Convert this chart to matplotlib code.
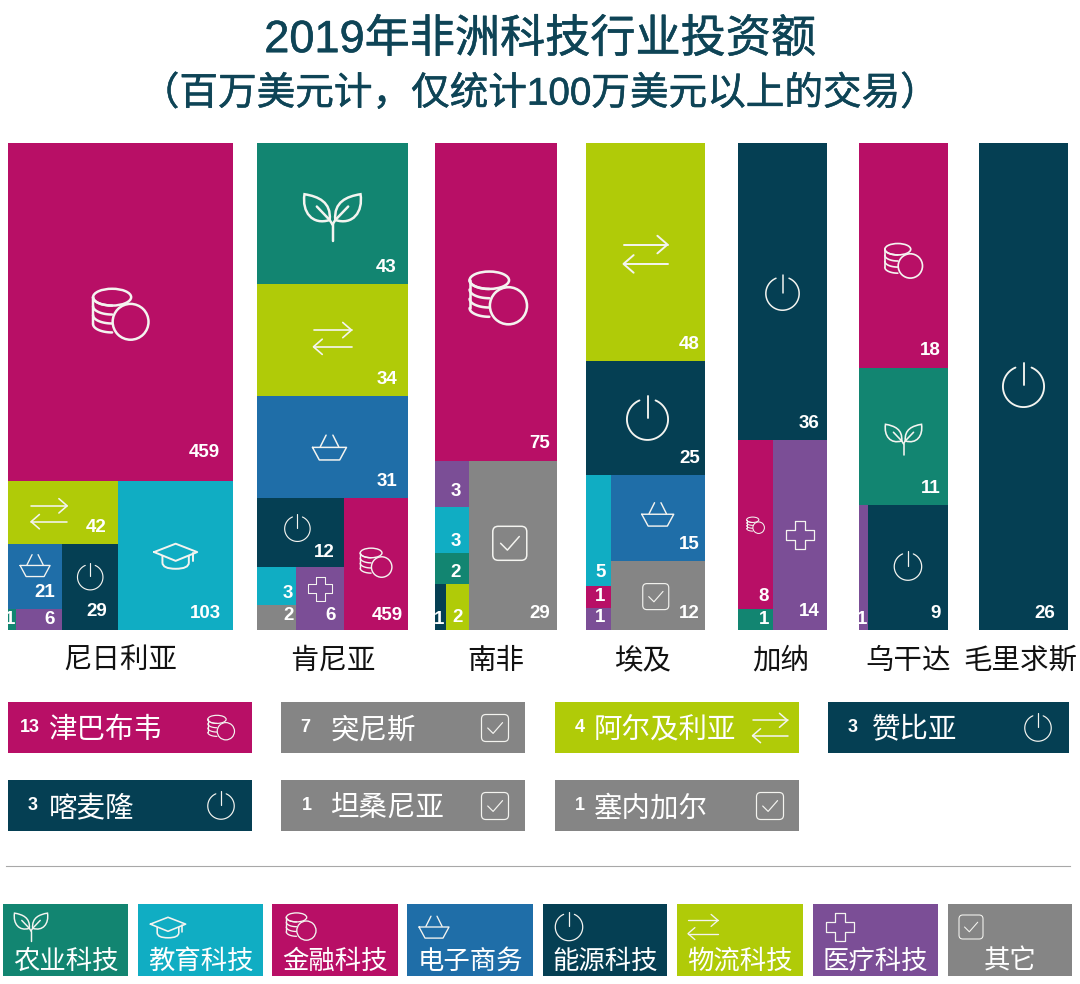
import numpy as np
import matplotlib
matplotlib.use('Agg')
import matplotlib.pyplot as plt
import matplotlib.patheffects as pe
from matplotlib.patches import Rectangle, Circle, Ellipse, PathPatch, FancyBboxPatch
from matplotlib.path import Path

plt.rcParams['font.family'] = ['Liberation Sans', 'Noto Sans CJK SC', 'DejaVu Sans']

COLORS = {'fin': '#b80f66', 'log': '#b0cb08', 'ecom': '#1f6ea8', 'edu': '#10adc3',
          'energy': '#053f53', 'agri': '#128571', 'health': '#7b4e96', 'other': '#858585'}
TEXT_DARK = '#0e4456'
ICON_COLOR = '#f4f4f0'
CJK = ['Noto Sans CJK SC', 'DejaVu Sans']

# Country names
countries = ['尼日利亚', '肯尼亚', '南非', '埃及', '加纳', '乌干达', '毛里求斯']

# Values per country (area of each cell) and the categories they belong to
nigeria_values = [459, 42, 21, 1, 6, 29, 103]
nigeria_cats = ['fin', 'log', 'ecom', 'agri', 'health', 'energy', 'edu']
kenya_values = [43, 34, 31, 12, 3, 2, 6, 17]
kenya_cats = ['agri', 'log', 'ecom', 'energy', 'edu', 'other', 'health', 'fin']
# the original prints 459 on the Kenyan fintech cell although its area is about 17
kenya_labels = [43, 34, 31, 12, 3, 2, 6, 459]
safrica_values = [75, 3, 3, 2, 1, 2, 29]
safrica_cats = ['fin', 'health', 'edu', 'agri', 'energy', 'log', 'other']
egypt_values = [48, 25, 5, 1, 1, 15, 12]
egypt_cats = ['log', 'energy', 'edu', 'fin', 'health', 'ecom', 'other']
ghana_values = [36, 8, 1, 14]
ghana_cats = ['energy', 'fin', 'agri', 'health']
uganda_values = [18, 11, 1, 9]
uganda_cats = ['fin', 'agri', 'health', 'energy']
mauritius_values = [26]
mauritius_cats = ['energy']

# Smaller countries shown as tiles
tile_counts = [13, 7, 4, 3, 3, 1, 1]
tile_names = ['津巴布韦', '突尼斯', '阿尔及利亚', '赞比亚', '喀麦隆', '坦桑尼亚', '塞内加尔']
tile_cats = ['fin', 'other', 'log', 'energy', 'energy', 'other', 'other']

legend_names = ['农业科技', '教育科技', '金融科技', '电子商务', '能源科技', '物流科技', '医疗科技', '其它']
legend_cats = ['agri', 'edu', 'fin', 'ecom', 'energy', 'log', 'health', 'other']

ICON_KIND = {'fin': 'coins', 'log': 'arrows', 'ecom': 'basket', 'edu': 'cap',
             'energy': 'power', 'agri': 'plant', 'health': 'cross', 'other': 'check'}

# How each treemap column is split: 'v' stacks, 'h' goes side by side, ints index the values
splits = [
    ('v', 0, ('h', ('v', 1, ('h', ('v', 2, ('h', 3, 4)), 5)), 6)),
    ('v', 0, 1, 2, ('h', ('v', 3, ('h', ('v', 4, 5), 6)), 7)),
    ('v', 0, ('h', ('v', 1, 2, 3, ('h', 4, 5)), 6)),
    ('v', 0, 1, ('h', ('v', 2, 3, 4), ('v', 5, 6))),
    ('v', 0, ('h', ('v', 1, 2), 3)),
    ('v', 0, 1, ('h', 2, 3)),
    ('v', 0),
]
column_left = [8, 257, 435, 586, 738, 859, 979]
column_right = [233, 408, 557, 705, 827, 948, 1068]
COL_TOP, COL_BOTTOM = 143, 630
label_x = [120, 333, 496, 643, 781, 908, 1020]

# icon offset from the cell centre and icon width, by value index
icon_spots = [
    {0: (0, 3, 56), 1: (-14, 1, 36), 2: (0, -11, 30), 5: (0, -10, 26), 6: (0, 0, 44)},
    {0: (0, 4, 56), 1: (0, -2, 38), 2: (-3, 0, 34), 3: (-3, -4, 26), 6: (0, -10, 24), 7: (0, -1, 32)},
    {0: (2, -3, 58), 6: (-3, -2, 34)},
    {0: (0, 2, 44), 1: (2, 1, 42), 5: (0, -4, 32), 6: (-2, 1, 26)},
    {0: (0, 2, 34), 1: (0, 1, 18), 3: (0, 0, 28)},
    {0: (0, 6, 38), 1: (0, 3, 36), 3: (0, -1, 28)},
    {0: (0, 0, 42)},
]

# value label padding from the cell's right and bottom edge
label_pad_right = [12, 11, 7, 5, 8, 7, 13]
pad_overrides = {(0, 2): (7, 16), (0, 3): (0.5, 11), (0, 4): (7, 11), (0, 5): (11, 18), (0, 0): (13, 29),
                 (1, 3): (9, 15), (1, 4): (3, 11), (1, 5): (3, 14), (1, 6): (8, 14), (1, 7): (5, 14),
                 (2, 1): (8, 15), (2, 2): (8, 12), (2, 3): (8, 11), (2, 4): (1.5, 11), (2, 5): (6, 12),
                 (3, 2): (5, 13), (3, 3): (5, 11), (3, 4): (5, 12),
                 (4, 1): (4, 12), (4, 2): (4, 11), (4, 3): (7, 18), (5, 2): (1, 11)}

fig = plt.figure(figsize=(10.8, 9.84), dpi=100)
ax = fig.add_axes([0, 0, 1, 1])
ax.set_xlim(0, 1080)
ax.set_ylim(984, 0)
ax.axis('off')


def weight(node, values):
    if isinstance(node, int):
        return values[node]
    return sum(weight(c, values) for c in node[1:])


def layout(node, values, x0, y0, x1, y1, out):
    # slice and dice, sizes come from the values
    if isinstance(node, int):
        out[node] = (x0, y0, x1, y1)
        return
    total = weight(node, values)
    pos = y0 if node[0] == 'v' else x0
    for child in node[1:]:
        frac = weight(child, values) / total
        if node[0] == 'v':
            nxt = pos + frac * (y1 - y0)
            layout(child, values, x0, pos, x1, nxt, out)
        else:
            nxt = pos + frac * (x1 - x0)
            layout(child, values, pos, y0, nxt, y1, out)
        pos = nxt


def line(xs, ys, cx, cy, s, lw, z=5):
    ax.plot(cx + np.array(xs) * s, cy + np.array(ys) * s, color=ICON_COLOR, lw=lw,
            solid_capstyle='round', solid_joinstyle='round', zorder=z)


def curve(verts, codes, cx, cy, s, lw):
    v = np.array(verts) * s + [cx, cy]
    ax.add_patch(PathPatch(Path(v, codes), fc='none', ec=ICON_COLOR, lw=lw, zorder=5))


def draw_icon(kind, cx, cy, s, bg):
    lw = max(0.75, s * 0.032)
    if kind == 'power':
        t = np.radians(np.linspace(113, 427, 60))
        line(0.49 * np.cos(t), -0.49 * np.sin(t), cx, cy, s, lw)
        line([0, 0], [-0.55, -0.03], cx, cy, s, lw)
    elif kind == 'arrows':
        line([-0.5, 0.5], [-0.22, -0.22], cx, cy, s, lw)
        line([0.27, 0.5, 0.27], [-0.42, -0.22, -0.02], cx, cy, s, lw)
        line([0.5, -0.5], [0.22, 0.22], cx, cy, s, lw)
        line([-0.27, -0.5, -0.27], [0.02, 0.22, 0.42], cx, cy, s, lw)
    elif kind == 'basket':
        line([-0.5, 0.5, 0.3, -0.3, -0.5], [0, 0, 0.37, 0.37, 0], cx, cy, s, lw)
        line([-0.27, -0.1], [-0.02, -0.36], cx, cy, s, lw)
        line([0.27, 0.1], [-0.02, -0.36], cx, cy, s, lw)
    elif kind == 'cap':
        line([-0.49, 0, 0.49, 0, -0.49], [-0.08, -0.27, -0.08, 0.12, -0.08], cx, cy, s, lw)
        curve([(-0.3, 0.0), (-0.3, 0.16), (-0.3, 0.3), (0, 0.3), (0.3, 0.3), (0.3, 0.16), (0.3, 0.0)],
              [Path.MOVETO, Path.LINETO, Path.CURVE3, Path.CURVE3, Path.CURVE3, Path.CURVE3, Path.LINETO],
              cx, cy, s, lw)
        line([0.39, 0.39], [-0.05, 0.13], cx, cy, s, lw)
    elif kind == 'cross':
        a, b = 0.19, 0.5
        line([-a, a, a, b, b, a, a, -a, -a, -b, -b, -a, -a],
             [-b, -b, -a, -a, a, a, b, b, a, a, -a, -a, -b], cx, cy, s, lw)
    elif kind == 'check':
        ax.add_patch(FancyBboxPatch((cx - 0.4 * s, cy - 0.4 * s), 0.8 * s, 0.8 * s,
                                    boxstyle=f'round,pad={0.1 * s},rounding_size={0.16 * s}',
                                    fc='none', ec=ICON_COLOR, lw=lw, zorder=5))
        line([-0.27, -0.07, 0.28], [0.0, 0.2, -0.2], cx, cy, s, lw)
    elif kind == 'plant':
        line([0, 0], [0.42, 0.12], cx, cy, s, lw)
        line([0, -0.05], [0.12, 0.04], cx, cy, s, lw)
        line([0, 0.05], [0.12, 0.04], cx, cy, s, lw)
        leaf = [Path.MOVETO, Path.CURVE4, Path.CURVE4, Path.CURVE4, Path.CURVE4, Path.CURVE4, Path.CURVE4]
        curve([(-0.05, 0.04), (-0.02, -0.28), (-0.25, -0.38), (-0.5, -0.42),
               (-0.55, -0.1), (-0.36, 0.14), (-0.05, 0.04)], leaf, cx, cy, s, lw)
        curve([(0.05, 0.04), (0.02, -0.28), (0.25, -0.38), (0.5, -0.42),
               (0.55, -0.1), (0.36, 0.14), (0.05, 0.04)], leaf, cx, cy, s, lw)
        line([-0.05, -0.28], [0.04, -0.2], cx, cy, s, lw)
        line([0.05, 0.28], [0.04, -0.2], cx, cy, s, lw)
    elif kind == 'coins':
        ax.add_patch(Ellipse((cx - 0.15 * s, cy - 0.32 * s), 0.68 * s, 0.3 * s, fc='none',
                             ec=ICON_COLOR, lw=lw, zorder=5))
        line([-0.49, -0.49], [-0.32, 0.16], cx, cy, s, lw)
        t = np.linspace(np.pi, np.pi / 2, 20)
        for off in [-0.32, -0.16, 0.0, 0.16]:
            line(-0.15 + 0.34 * np.cos(t), off + 0.15 * np.sin(t), cx, cy, s, lw)
        ax.add_patch(Circle((cx + 0.18 * s, cy + 0.12 * s), 0.32 * s, fc=bg, ec=ICON_COLOR,
                            lw=lw, zorder=6))


all_values = [nigeria_values, kenya_values, safrica_values, egypt_values, ghana_values,
              uganda_values, mauritius_values]
all_cats = [nigeria_cats, kenya_cats, safrica_cats, egypt_cats, ghana_cats, uganda_cats,
            mauritius_cats]
all_labels = [nigeria_values, kenya_labels, safrica_values, egypt_values, ghana_values,
              uganda_values, mauritius_values]

for c in range(len(countries)):
    cells = {}
    layout(splits[c], all_values[c], column_left[c], COL_TOP, column_right[c], COL_BOTTOM, cells)
    for i, (x0, y0, x1, y1) in cells.items():
        bg = COLORS[all_cats[c][i]]
        ax.add_patch(Rectangle((x0, y0), x1 - x0, y1 - y0, fc=bg, ec='none', zorder=2))
        pad_r, pad_b = pad_overrides.get((c, i), (label_pad_right[c], 17))
        ax.text(x1 - pad_r, y1 - pad_b, str(all_labels[c][i]), color='white', fontsize=13.5,
                fontweight='bold', family='Liberation Sans', ha='right', va='center', zorder=7)
        if i in icon_spots[c]:
            dx, dy, s = icon_spots[c][i]
            draw_icon(ICON_KIND[all_cats[c][i]], (x0 + x1) / 2 + dx, (y0 + y1) / 2 + dy, s, bg)
    ax.text(label_x[c], 661, countries[c], fontsize=20.5, color='#111111', ha='center', va='center',
            family=CJK)

# Titles
thick = [pe.withStroke(linewidth=0.4, foreground=TEXT_DARK)]
ax.text(540, 40, '2019年非洲科技行业投资额', fontsize=32.5, color=TEXT_DARK, ha='center', va='center',
        path_effects=thick)
ax.text(540, 94, '（百万美元计，仅统计100万美元以上的交易）', fontsize=27.8, color=TEXT_DARK, ha='center',
        va='center', path_effects=thick)

# Country tiles
tile_x = [(8, 252), (281, 525), (555, 799), (828, 1069), (8, 252), (281, 525), (555, 799)]
tile_y = [(702, 753)] * 4 + [(780, 831)] * 3
count_x = [30, 305, 580, 853, 33, 307, 580]
name_x = [49, 330, 594, 872, 49, 330, 594]
tile_icon_x = [221, 495, 770, 1038, 221, 495, 770]

for i in range(len(tile_names)):
    bg = COLORS[tile_cats[i]]
    x0, x1 = tile_x[i]
    y0, y1 = tile_y[i]
    ax.add_patch(Rectangle((x0, y0), x1 - x0, y1 - y0, fc=bg, ec='none', zorder=2))
    ax.text(count_x[i], (y0 + y1) / 2, str(tile_counts[i]), color='white', fontsize=13,
            fontweight='bold', family='Liberation Sans', ha='center', va='center', zorder=7)
    ax.text(name_x[i], (y0 + y1) / 2 + 3, tile_names[i], color='white', fontsize=20.5, ha='left',
            va='center', family=CJK, zorder=7)
    kind = ICON_KIND[tile_cats[i]]
    draw_icon(kind, tile_icon_x[i], (y0 + y1) / 2 + 0.5, 35 if kind == 'arrows' else 27, bg)

ax.plot([6, 1070], [866, 866], color='#a8a8a8', lw=0.8, zorder=1)

# Category legend
legend_left = [3, 138, 272, 407, 543, 677, 813, 948]
legend_right = [128, 263, 398, 533, 667, 803, 938, 1072]
legend_icon_x = [31, 168, 301, 434, 569, 703, 840, 971]
legend_icon_w = [33, 36, 30, 30, 28, 30, 28, 24]
for i in range(len(legend_names)):
    bg = COLORS[legend_cats[i]]
    x0, x1 = legend_left[i], legend_right[i]
    ax.add_patch(Rectangle((x0, 904), x1 - x0, 72, fc=bg, ec='none', zorder=2))
    ax.text((x0 + x1) / 2, 961, legend_names[i], color='white', fontsize=19, ha='center',
            va='center', family=CJK, zorder=7)
    draw_icon(ICON_KIND[legend_cats[i]], legend_icon_x[i], 927, legend_icon_w[i], bg)

fig.savefig('out.png', dpi=100, facecolor='white')
